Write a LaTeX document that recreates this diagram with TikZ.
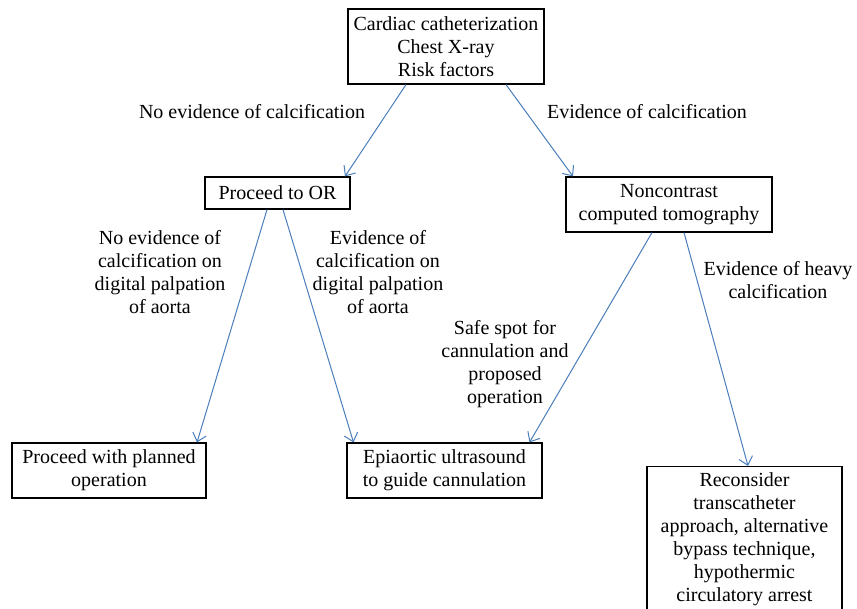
\documentclass[tikz,border=0pt]{standalone}
\usepackage{fontspec}
\setmainfont{Liberation Serif}
\usetikzlibrary{arrows.meta}
\definecolor{arrblue}{HTML}{4A7EBB}
\tikzset{
  box/.style={draw=black, line width=1.2pt, align=center, inner sep=0pt,
    font=\fontsize{20}{23}\selectfont},
  lbl/.style={align=center, inner sep=0pt, font=\fontsize{20}{23}\selectfont},
  conn/.style={draw=arrblue, line width=1pt, -{Straight Barb[length=8pt,width=14pt]}}
}
\begin{document}
\begin{tikzpicture}[x=1pt,y=-1pt]
\useasboundingbox (0,0) rectangle (857,609);
\clip (0,0) rectangle (857,609);
\node[box, minimum width=196pt, minimum height=75pt] (top) at (446,46.5)
  {Cardiac catheterization\\Chest X-ray\\Risk factors};
\node[box, minimum width=145pt, minimum height=32pt] (or) at (277.5,193)
  {Proceed to OR};
\node[box, minimum width=206pt, minimum height=55pt] (nct) at (669,204.5)
  {Noncontrast\\computed tomography};
\node[box, minimum width=194pt, minimum height=55pt] (plan) at (109,470.5)
  {Proceed with planned\\operation};
\node[box, minimum width=195pt, minimum height=55pt] (epi) at (444.5,470.5)
  {Epiaortic ultrasound\\to guide cannulation};
\node[box, anchor=north, minimum width=195pt, minimum height=152pt, text depth=11pt] (rec) at (744.5,466)
  {Reconsider\\transcatheter\\approach, alternative\\bypass technique,\\hypothermic\\circulatory arrest};

\node[lbl] (l1) at (252,112) {No evidence of calcification};
\node[lbl] (l2) at (647,112) {Evidence of calcification};
\node[lbl] (l3) at (160,272) {No evidence of\\calcification on\\digital palpation\\of aorta};
\node[lbl] (l4) at (378,272) {Evidence of\\calcification on\\digital palpation\\of aorta};
\node[lbl] (l5) at (505,364) {Safe spot for\\cannulation and\\proposed\\operation};
\node[lbl] (l6) at (778,280) {Evidence of heavy\\calcification};

\draw[conn] ([xshift=-40pt]top.south) -- ([xshift=67.5pt]or.north);
\draw[conn] ([xshift=60pt]top.south) -- ([xshift=-96pt]nct.north);
\draw[conn] ([xshift=-10.5pt]or.south) -- ([xshift=88pt]plan.north);
\draw[conn] ([xshift=5.5pt]or.south) -- ([xshift=-91pt]epi.north);
\draw[conn] ([xshift=-17pt]nct.south) -- ([xshift=85pt]epi.north);
\draw[conn] ([xshift=15pt]nct.south) -- ([xshift=3.5pt]rec.north);
\end{tikzpicture}
\end{document}
